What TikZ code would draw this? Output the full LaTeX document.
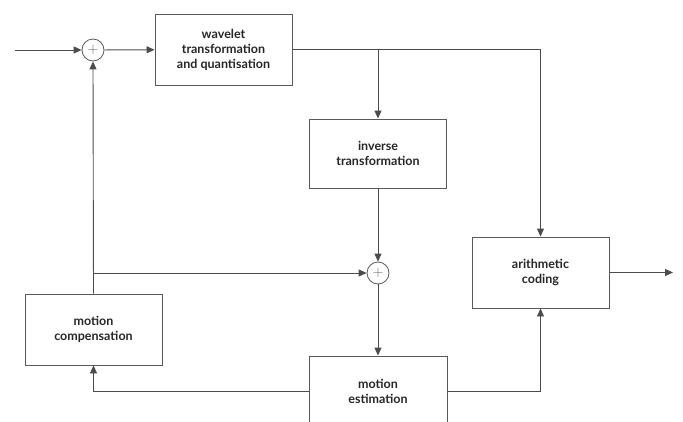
\documentclass[tikz,border=0pt]{standalone}
\usepackage{fontspec}
\setmainfont{Lato}
\usetikzlibrary{arrows.meta,positioning}

\begin{document}
\begin{tikzpicture}[x=1pt,y=-1pt,
    block/.style={draw=black!65, line width=0.9pt, minimum width=137pt, minimum height=71pt,
                  align=center, font=\fontsize{12.5}{15}\selectfont\bfseries, text=black!85},
    sum/.style={draw=black!65, circle, line width=0.8pt, minimum size=22pt, inner sep=0pt,
                font=\Large, text=black!60},
    flow/.style={draw=black!70, line width=0.9pt, -{Triangle[length=8pt,width=7pt]}}]
    \useasboundingbox (0,0) rectangle (683,421);

    % forward path
    \coordinate (in) at (15,50);
    \node[sum] (sumA) at (93,50) {$+$};
    \node[block] (wave) at (223.5,49.5) {wavelet\\transformation\\and quantisation};
    \node[block, minimum height=69pt] (inv) at (378,153.5) {inverse\\transformation};
    \node[sum] (sumB) at (378,273) {$+$};
    \node[block] (arith) at (540.5,272.5) {arithmetic\\coding};
    \coordinate (out) at (673,272.5);

    % feedback path
    \node[block] (comp) at (93.5,329.5) {motion\\compensation};
    \node[block, minimum width=138pt] (est) at (378,391.5) {motion\\estimation};

    \draw[flow] (in) -- (sumA);
    \draw[flow] (sumA) -- (wave);
    \draw[flow] (wave.east) -| (arith.north);
    \draw[flow] (inv.north |- wave.east) -- (inv.north);
    \draw[flow] (inv) -- (sumB);
    \draw[flow] (sumB) -- (est);
    \draw[flow] (arith) -- (out);
    \draw[flow] (est.east) -| (arith.south);
    \draw[flow] (est.west) -| (comp.south);
    \draw[flow] (comp.north) -- (sumA.south);
    \draw[flow] (comp.north |- sumB) -- (sumB.west);
\end{tikzpicture}
\end{document}
